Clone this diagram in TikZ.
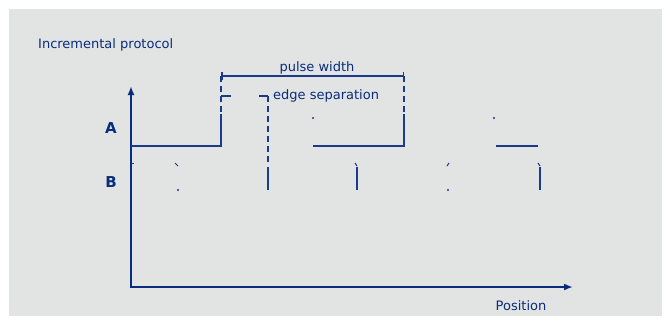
\documentclass[tikz,border=0pt]{standalone}
\usepackage{fontspec}
\setmainfont{DejaVu Sans}
\usetikzlibrary{positioning,calc,arrows.meta}
\definecolor{encBlue}{RGB}{28,58,140}
\definecolor{encNavy}{RGB}{10,44,125}
\definecolor{encGrey}{RGB}{226,227,227}
\tikzset{
   encAxis/.style = {
         draw,
         encNavy,
         line width = 2.8pt,
         {Latex[length=9pt,width=7pt]}-{Latex[length=9pt,width=7pt]},
      },
   encSignal/.style = {
         draw,
         encBlue,
         line width = 1.5pt,
      },
   encGuide/.style = {
         draw,
         encBlue,
         line width = 1.5pt,
         dash pattern = on 6pt off 4pt,
      },
   encDim/.style = {
         draw,
         encBlue,
         line width = 1.5pt,
         {Bar[width=8pt]}-{Bar[width=8pt]},
      },
   encDot/.style = {
         encBlue,
      },
   encText/.style = {
         text = encNavy,
         inner sep = 0pt,
         font = \fontsize{13}{15}\selectfont,
      },
   encLabel/.style = {
         text = encNavy,
         inner sep = 0pt,
         font = \fontsize{15}{17}\selectfont\bfseries,
      },
}

\begin{document}
\begin{tikzpicture}[x=1pt, y=-1pt]

% Frame
\useasboundingbox (0,0) rectangle (670,322);
\fill [encGrey] (9,9) rectangle (662,316);

% Place texts
\node [encText, anchor=west] (title) at (38,45) {Incremental protocol};
\node [encText] (pulse) at (317,68) {pulse width};
\node [encText, anchor=west] (edgesep) at (273,96) {edge separation};
\node [encLabel] (labA) at (111,128) {A};
\node [encLabel] (labB) at (111,182) {B};
\node [encText] (position) at (521,306) {Position};

% Place coordinates
\coordinate (origin) at (131,287);
\coordinate (yTip) at (131,86);
\coordinate (xTip) at (573,287);

\coordinate (a1) at (131,146);
\coordinate (a2) at (221,146);
\coordinate (a3) at (221,114);
\coordinate (a4) at (313,146);
\coordinate (a5) at (404,146);
\coordinate (a6) at (404,114);
\coordinate (a7) at (496,146);
\coordinate (a8) at (538,146);

\coordinate (pw1) at (221,76);
\coordinate (pw2) at (404,76);
\coordinate (es1) at (268,96);

% Axes
\path [encAxis] (yTip) -- (origin) -- (xTip);

% Track A
\path [encSignal] (a1) -- (a2) -- (a3);
\path [encSignal] (a4) -- (a5) -- (a6);
\path [encSignal] (a7) -- (a8);

% Track B
\foreach \bx in {268,357,540}
   \path [encSignal] (\bx,167) -- (\bx,190);
\path [encSignal, line width=1pt] (175,163) -- (178,166);
\path [encSignal, line width=1pt] (355,163) -- (357,166);
\path [encSignal, line width=1pt] (449,163) -- (447,166);
\path [encSignal, line width=1pt] (538,163) -- (540,166);
\path [encSignal, line width=1pt] (131,163) -- (134,163);
\foreach \dx/\dy in {178/190,448/190,313/118,494/118}
   \fill [encDot] (\dx,\dy) circle (1.1pt);

% Dimensions
\path [encGuide] (pw1) -- ($(a3)+(0,-2)$);
\path [encGuide] (pw2) -- ($(a6)+(0,-2)$);
\path [encGuide] (es1) -- (268,165);
\path [encDim] (pw1) -- (pw2);
\path [encSignal, line width=2.2pt] (221,96) -- (231,96);
\path [encSignal, line width=2.2pt] (259,96) -- (es1);

\end{tikzpicture}
\end{document}
